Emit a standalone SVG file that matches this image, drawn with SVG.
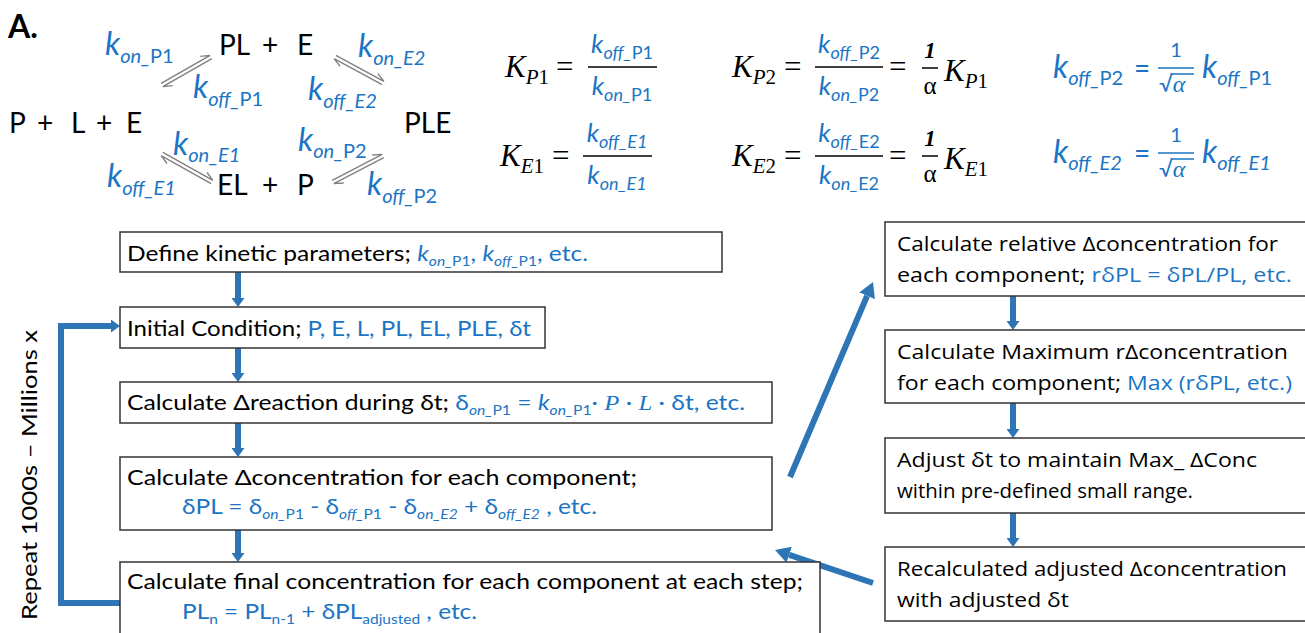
<svg xmlns="http://www.w3.org/2000/svg" width="1305" height="633" viewBox="0 0 1305 633">
<style>
text{font-family:Lato,'Open Sans',sans-serif}
.i{font-style:italic}
.n{font-style:normal}
.sp{font-size:28px;fill:#000}
.k{font-size:32px;font-style:italic;fill:#1B75C4}
.s{font-size:20px}
.k2{font-size:26px;font-style:italic;fill:#1B75C4}
.s2{font-size:18px}
.m{font-family:'Liberation Serif',serif;fill:#000}
.node rect{fill:#fff;stroke:#333;stroke-width:1.5}
.lt{font-size:22px;fill:#000}
.ss{font-size:14px}
.rt{font-family:'Open Sans',sans-serif;font-size:20px;fill:#000}
.eqa{fill:none;stroke:#808080;stroke-width:1.4}
.fl{stroke:#000;stroke-width:1.5}
.flb{stroke:#1B75C4;stroke-width:1.5}
.conn path{fill:none;stroke:#2E75B6;stroke-width:6}
text.b,tspan.b,.b{fill:#1B75C4}
</style>
<defs>
<marker id="ah" viewBox="0 0 9 13" refX="0" refY="6.5" markerWidth="9" markerHeight="13" markerUnits="userSpaceOnUse" orient="auto"><path d="M0,0 L9,6.5 L0,13 z" fill="#2E75B6"/></marker>
<marker id="ahb" viewBox="0 0 15 17" refX="0" refY="8.5" markerWidth="15" markerHeight="17" markerUnits="userSpaceOnUse" orient="auto"><path d="M0,0 L15,8.5 L0,17 z" fill="#2E75B6"/></marker>
</defs>
<rect width="1305" height="633" fill="#fff"/>

<text x="8" y="38" font-family="'Liberation Sans',sans-serif" font-weight="bold" font-size="32">A.</text>

<g id="scheme">
<text class="sp" y="55"><tspan x="219">PL</tspan><tspan x="262">+</tspan><tspan x="297">E</tspan></text>
<text class="sp" y="133"><tspan x="9">P</tspan><tspan x="37">+</tspan><tspan x="71">L</tspan><tspan x="96">+</tspan><tspan x="126">E</tspan></text>
<text class="sp" x="404" y="133">PLE</text>
<text class="sp" y="195"><tspan x="217">EL</tspan><tspan x="262">+</tspan><tspan x="297">P</tspan></text>
<text class="k" x="105" y="55">k<tspan class="s" dy="8">on_</tspan><tspan class="s n">P1</tspan></text>
<text class="k" x="358" y="57">k<tspan class="s" dy="8">on_E2</tspan></text>
<text class="k" x="193" y="98">k<tspan class="s" dy="8">off_</tspan><tspan class="s n">P1</tspan></text>
<text class="k" x="308" y="100">k<tspan class="s" dy="8">off_E2</tspan></text>
<text class="k" x="173" y="155">k<tspan class="s" dy="7">on_E1</tspan></text>
<text class="k" x="298" y="151">k<tspan class="s" dy="7">on_</tspan><tspan class="s n">P2</tspan></text>
<text class="k" x="107" y="187">k<tspan class="s" dy="8">off_E1</tspan></text>
<text class="k" x="367" y="195">k<tspan class="s" dy="8">off_</tspan><tspan class="s n">P2</tspan></text>
<path class="eqa" d="M161.1,83.4 L210.1,55.4 L200.3,56.4 M162.9,86.6 L211.9,58.6 M162.9,86.6 L172.7,85.6"/>
<path class="eqa" d="M335.9,55.4 L383.9,81.4 L377.9,73.6 M334.1,58.6 L382.1,84.6 M334.1,58.6 L340.1,66.4"/>
<path class="eqa" d="M162.9,152.4 L212.9,180.4 L207.0,172.5 M161.1,155.6 L211.1,183.6 M161.1,155.6 L167.0,163.5"/>
<path class="eqa" d="M332.2,180.4 L382.2,154.4 L372.3,155.0 M333.8,183.6 L383.8,157.6 M333.8,183.6 L343.7,183.0"/>
</g>

<g id="equations">
<text class="m i" x="505" y="77" font-size="31">K<tspan font-size="21" dy="7">P</tspan><tspan font-size="21" class="n">1</tspan></text>
<text class="m" x="556" y="77" font-size="31">=</text>
<line class="fl" x1="588" y1="67" x2="657" y2="67"/>
<text class="k2" x="622" y="53" text-anchor="middle">k<tspan class="s2" dy="6">off_</tspan><tspan class="s2 n">P1</tspan></text>
<text class="k2" x="622" y="95" text-anchor="middle">k<tspan class="s2" dy="6">on_</tspan><tspan class="s2 n">P1</tspan></text>

<text class="m i" x="732" y="77" font-size="31">K<tspan font-size="21" dy="7">P</tspan><tspan font-size="21" class="n">2</tspan></text>
<text class="m" x="784" y="77" font-size="31">=</text>
<line class="fl" x1="815" y1="67" x2="883" y2="67"/>
<text class="k2" x="849" y="53" text-anchor="middle">k<tspan class="s2" dy="6">off_</tspan><tspan class="s2 n">P2</tspan></text>
<text class="k2" x="849" y="95" text-anchor="middle">k<tspan class="s2" dy="6">on_</tspan><tspan class="s2 n">P2</tspan></text>
<text class="m" x="889" y="77" font-size="31">=</text>
<text class="m i" x="930" y="58" font-size="23" text-anchor="middle" font-weight="bold">1</text>
<line class="fl" x1="922" y1="68" x2="938" y2="68"/>
<text class="m" x="930" y="94" font-size="25" text-anchor="middle">α</text>
<text class="m i" x="944" y="81" font-size="31">K<tspan font-size="21" dy="7">P</tspan><tspan font-size="21" class="n">1</tspan></text>

<text class="m i" x="500" y="166" font-size="31">K<tspan font-size="21" dy="7">E</tspan><tspan font-size="21" class="n">1</tspan></text>
<text class="m" x="552" y="166" font-size="31">=</text>
<line class="fl" x1="583" y1="156" x2="652" y2="156"/>
<text class="k2" x="617" y="142" text-anchor="middle">k<tspan class="s2" dy="6">off_E1</tspan></text>
<text class="k2" x="617" y="184" text-anchor="middle">k<tspan class="s2" dy="6">on_E1</tspan></text>

<text class="m i" x="732" y="166" font-size="31">K<tspan font-size="21" dy="7">E</tspan><tspan font-size="21" class="n">2</tspan></text>
<text class="m" x="784" y="166" font-size="31">=</text>
<line class="fl" x1="815" y1="156" x2="883" y2="156"/>
<text class="k2" x="849" y="142" text-anchor="middle">k<tspan class="s2" dy="6">off_</tspan><tspan class="s2 n">E2</tspan></text>
<text class="k2" x="849" y="184" text-anchor="middle">k<tspan class="s2" dy="6">on_</tspan><tspan class="s2 n">E2</tspan></text>
<text class="m" x="889" y="166" font-size="31">=</text>
<text class="m i" x="930" y="146" font-size="23" text-anchor="middle" font-weight="bold">1</text>
<line class="fl" x1="922" y1="156" x2="938" y2="156"/>
<text class="m" x="930" y="182" font-size="25" text-anchor="middle">α</text>
<text class="m i" x="944" y="169" font-size="31">K<tspan font-size="21" dy="7">E</tspan><tspan font-size="21" class="n">1</tspan></text>

<text class="k" x="1053" y="78">k<tspan class="s" dy="7">off_</tspan><tspan class="s n">P2</tspan></text>
<text class="b" x="1134" y="78" font-size="28">=</text>
<text class="b" x="1176" y="57" font-size="20" text-anchor="middle">1</text>
<line class="flb" x1="1158" y1="68" x2="1194" y2="68"/>
<text class="b" x="1159" y="92" font-size="22" font-family="'DejaVu Sans',sans-serif">√<tspan class="i" font-family="'Liberation Serif',serif" font-size="24">α</tspan></text>
<line class="flb" x1="1172" y1="74" x2="1194" y2="74"/>
<text class="k" x="1202" y="78">k<tspan class="s" dy="7">off_</tspan><tspan class="s n">P1</tspan></text>

<text class="k" x="1053" y="163">k<tspan class="s" dy="7">off_E2</tspan></text>
<text class="b" x="1134" y="163" font-size="28">=</text>
<text class="b" x="1176" y="142" font-size="20" text-anchor="middle">1</text>
<line class="flb" x1="1158" y1="153" x2="1194" y2="153"/>
<text class="b" x="1159" y="177" font-size="22" font-family="'DejaVu Sans',sans-serif">√<tspan class="i" font-family="'Liberation Serif',serif" font-size="24">α</tspan></text>
<line class="flb" x1="1172" y1="159" x2="1194" y2="159"/>
<text class="k" x="1202" y="163">k<tspan class="s" dy="7">off_E1</tspan></text>
</g>

<g id="connectors" class="conn">
<path d="M238,272 V298" marker-end="url(#ah)"/>
<path d="M238,348 V373" marker-end="url(#ah)"/>
<path d="M238,423 V448" marker-end="url(#ah)"/>
<path d="M238,530 V553" marker-end="url(#ah)"/>
<path d="M1013,296 V321" marker-end="url(#ah)"/>
<path d="M1013,403 V429" marker-end="url(#ah)"/>
<path d="M1013,513 V538" marker-end="url(#ah)"/>
<path d="M120,603 H61 V326 H111" marker-end="url(#ah)"/>
<path d="M790,477 L867.1,295.8" marker-end="url(#ahb)"/>
<path d="M873,583 L789.2,554.8" marker-end="url(#ahb)"/>
</g>

<text x="37" y="475" transform="rotate(-90 37 475)" text-anchor="middle" font-family="'DejaVu Sans',sans-serif" font-size="22" textLength="290" lengthAdjust="spacingAndGlyphs">Repeat 1000s – Millions x</text>

<g id="box1" class="node"><rect x="120" y="232" width="602" height="40"/>
<text class="lt" x="127" y="261" textLength="461" lengthAdjust="spacingAndGlyphs">Define kinetic parameters; <tspan class="b"><tspan class="i">k</tspan><tspan class="ss i" dy="5">on_</tspan><tspan class="ss">P1</tspan><tspan dy="-5">, </tspan><tspan class="i">k</tspan><tspan class="ss i" dy="5">off_</tspan><tspan class="ss">P1</tspan><tspan dy="-5">, etc.</tspan></tspan></text></g>

<g id="box2" class="node"><rect x="120" y="307" width="425" height="41"/>
<text class="lt" x="127" y="336" textLength="404" lengthAdjust="spacingAndGlyphs">Initial Condition; <tspan class="b">P, E, L, PL, EL, PLE, δt</tspan></text></g>

<g id="box3" class="node"><rect x="120" y="382" width="652" height="41"/>
<text class="lt" x="127" y="410" textLength="618" lengthAdjust="spacingAndGlyphs">Calculate Δreaction during δt; <tspan class="b">δ<tspan class="ss i" dy="5">on_</tspan><tspan class="ss">P1</tspan><tspan dy="-5"> = </tspan><tspan class="i">k</tspan><tspan class="ss i" dy="5">on_</tspan><tspan class="ss">P1</tspan><tspan dy="-5">· </tspan><tspan class="i" font-family="'Liberation Serif',serif">P</tspan> · <tspan class="i" font-family="'Liberation Serif',serif">L</tspan> · δt, etc.</tspan></text></g>

<g id="box4" class="node"><rect x="120" y="457" width="652" height="73"/>
<text class="lt" x="127" y="485" textLength="510" lengthAdjust="spacingAndGlyphs">Calculate Δconcentration for each component;</text>
<text class="lt b" x="182" y="514" textLength="415" lengthAdjust="spacingAndGlyphs">δPL = δ<tspan class="ss i" dy="5">on_</tspan><tspan class="ss">P1</tspan><tspan dy="-5"> - δ</tspan><tspan class="ss i" dy="5">off_</tspan><tspan class="ss">P1</tspan><tspan dy="-5"> - δ</tspan><tspan class="ss i" dy="5">on_E2</tspan><tspan dy="-5"> + δ</tspan><tspan class="ss i" dy="5">off_E2</tspan><tspan dy="-5"> , etc.</tspan></text></g>

<g id="box5" class="node"><rect x="120" y="562" width="700" height="85"/>
<text class="lt" x="127" y="589" textLength="676" lengthAdjust="spacingAndGlyphs">Calculate final concentration for each component at each step;</text>
<text class="lt b" x="182" y="619" textLength="295" lengthAdjust="spacingAndGlyphs">PL<tspan class="ss" dy="5">n</tspan><tspan dy="-5"> = PL</tspan><tspan class="ss" dy="5">n-1</tspan><tspan dy="-5"> + δPL</tspan><tspan class="ss" dy="5">adjusted</tspan><tspan dy="-5"> , etc.</tspan></text></g>

<g id="r1" class="node"><rect x="885" y="222" width="430" height="74"/>
<text class="rt" x="897" y="251" textLength="381" lengthAdjust="spacingAndGlyphs">Calculate relative Δconcentration for</text>
<text class="rt" x="897" y="282" textLength="395" lengthAdjust="spacingAndGlyphs">each component; <tspan class="b">rδPL = δPL/PL, etc.</tspan></text></g>

<g id="r2" class="node"><rect x="885" y="330" width="430" height="73"/>
<text class="rt" x="897" y="359" textLength="391" lengthAdjust="spacingAndGlyphs">Calculate Maximum rΔconcentration</text>
<text class="rt" x="897" y="390" textLength="395" lengthAdjust="spacingAndGlyphs">for each component; <tspan class="b">Max (rδPL, etc.)</tspan></text></g>

<g id="r3" class="node"><rect x="885" y="438" width="430" height="75"/>
<text class="rt" x="897" y="467" textLength="360" lengthAdjust="spacingAndGlyphs">Adjust δt to maintain Max_ ΔConc</text>
<text class="rt" x="897" y="498" textLength="296" lengthAdjust="spacingAndGlyphs">within pre-defined small range.</text></g>

<g id="r4" class="node"><rect x="885" y="547" width="430" height="74"/>
<text class="rt" x="897" y="576" textLength="390" lengthAdjust="spacingAndGlyphs">Recalculated adjusted Δconcentration</text>
<text class="rt" x="897" y="607" textLength="172" lengthAdjust="spacingAndGlyphs">with adjusted δt</text></g>
</svg>
